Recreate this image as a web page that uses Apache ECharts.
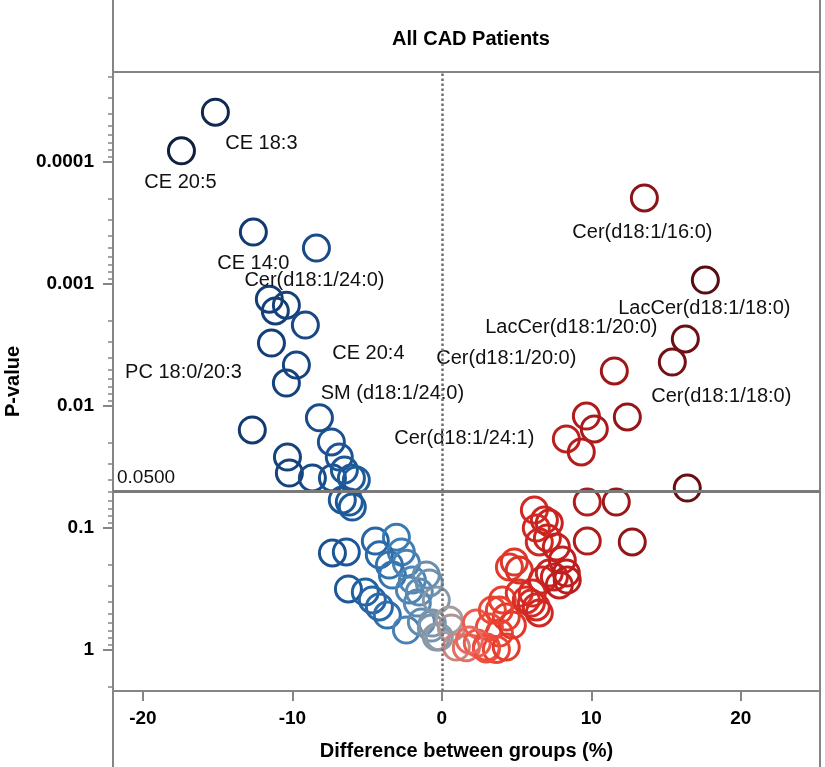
<!DOCTYPE html>
<html>
<head>
<meta charset="utf-8">
<title>All CAD Patients</title>
<script src="https://cdn.jsdelivr.net/npm/echarts@6/dist/echarts.min.js"></script>
<style>
  html, body { margin: 0; padding: 0; background: #fff; }
  #chart { width: 825px; height: 767px; }
</style>
</head>
<body>
<div id="chart"></div>
<script>
// difference between groups (%) per lipid
const diffs = [
  -15.15, -17.42, -12.61, -8.39, -11.54, -10.40, -11.14, -9.13, -11.40, -9.73,
  -10.40, -8.19, -12.68, -7.39, -10.33, -6.86, -10.20, -8.66, -7.32, -6.52,
  -6.05, -5.72, -6.66, -6.19, -5.99,
  -7.32, -6.39, -4.45, -3.04, -4.18, -2.71, -3.51, -2.37, -6.25, -5.12,
  -4.65, -3.31, -1.97, -1.51, -2.17, -0.84, -3.65, -4.18, -2.37, -1.37,
  -0.70, -0.37, -1.64, -0.37, -1.04,
  -0.64, 0.50, -0.17, 0.97, 0.64,
  1.64, 2.31, 2.98, 3.38, 3.85, 4.31, 3.65, 2.37, 2.98, 4.31,
  4.05, 3.18, 1.84, 4.72,
  4.52, 4.85, 5.18, 5.18, 5.65, 5.99, 6.52, 6.05, 6.72, 7.19,
  6.32, 3.85,
  6.19, 6.86, 7.19, 6.32, 7.06, 6.52, 7.66, 8.06, 7.53, 8.33,
  7.86, 8.39, 9.73, 11.67, 9.73, 12.74,
  13.55, 17.63, 16.29, 15.42, 11.54, 12.41, 9.67, 10.20, 8.33, 9.33,
  16.42
]
// P-value per lipid
const pValues = [
  0.000039, 0.000081, 0.000375, 0.000507, 0.00133, 0.00149, 0.00166, 0.00217, 0.00305, 0.00461,
  0.00648, 0.0125, 0.0157, 0.0197, 0.0262, 0.0262, 0.0354, 0.0389, 0.0389, 0.0335,
  0.0389, 0.0404, 0.0589, 0.0612, 0.0673,
  0.160, 0.157, 0.128, 0.119, 0.166, 0.157, 0.201, 0.194, 0.316, 0.335,
  0.389, 0.243, 0.267, 0.335, 0.322, 0.282, 0.517, 0.444, 0.686, 0.589,
  0.660, 0.782, 0.412, 0.389, 0.243,
  0.601, 0.568, 0.782, 0.945, 0.660,
  0.96, 0.601, 0.945, 0.470, 0.726, 0.537, 0.99, 0.877, 0.98, 0.945,
  0.389, 0.648, 0.828, 0.624,
  0.209, 0.190, 0.221, 0.341, 0.389, 0.412, 0.497, 0.341, 0.267, 0.234,
  0.444, 0.470,
  0.0712, 0.0860, 0.0910, 0.100, 0.121, 0.130, 0.143, 0.183, 0.252, 0.234,
  0.293, 0.267, 0.0612, 0.0612, 0.128, 0.130,
  0.000197, 0.000927, 0.00282, 0.00436, 0.00516, 0.0123, 0.0121, 0.0154, 0.0186, 0.0238,
  0.0470
]
// lipid names shown on the chart, keyed by point index
const labelIndex = [0, 1, 2, 3, 8, 9, 11, 105, 101, 99, 98, 100, 97]
const labelNames = [
  'CE 18:3', 'CE 20:5', 'CE 14:0', 'Cer(d18:1/24:0)', 'PC 18:0/20:3', 'CE 20:4',
  'SM (d18:1/24:0)', 'Cer(d18:1/24:1)', 'Cer(d18:1/20:0)', 'LacCer(d18:1/20:0)',
  'LacCer(d18:1/18:0)', 'Cer(d18:1/18:0)', 'Cer(d18:1/16:0)'
]

const xTicks = [-20, -10, 0, 10, 20]
const yTickP = [1, 0.1, 0.01, 0.001, 0.0001]
const yTickText = ['1', '0.1', '0.01', '0.001', '0.0001']
const threshold = 0.05

// label placement relative to its circle
const labelOffsets = {
  'CE 18:3': [46, 31],
  'CE 20:5': [-1, 32],
  'CE 14:0': [0, 31],
  'Cer(d18:1/24:0)': [-2, 32],
  'PC 18:0/20:3': [-88, 29],
  'CE 20:4': [72, -12],
  'SM (d18:1/24:0)': [73, -24],
  'Cer(d18:1/24:1)': [-102, 0],
  'Cer(d18:1/20:0)': [-108, -12],
  'LacCer(d18:1/20:0)': [-114, -11],
  'LacCer(d18:1/18:0)': [-1, 28],
  'Cer(d18:1/18:0)': [49, 34],
  'Cer(d18:1/16:0)': [-2, 35],
}

// blue -> gray -> red by difference
const colorStops = [
  [-18, '#0c1d3a'], [-15, '#0f2a50'], [-12.5, '#123a72'], [-10, '#16447f'],
  [-8, '#1a4d8c'], [-6, '#1d5a9a'], [-4, '#2a6aaa'], [-3, '#3b7ab2'],
  [-2, '#4f86b5'], [-1, '#6a8fae'], [-0.3, '#8a9aa8'], [0.5, '#a39d9f'],
  [1, '#cc857f'], [1.8, '#e86a5f'], [2.5, '#f05545'], [4, '#e8402f'],
  [6, '#d42a22'], [8, '#c01f1f'], [10, '#ad1a1a'], [12, '#9a1618'],
  [14, '#861318'], [16, '#6e0f14'], [18, '#560c10'],
]
function hexToRgb(h) {
  return [1, 3, 5].map(i => parseInt(h.slice(i, i + 2), 16))
}
function colorAt(x) {
  if (x <= colorStops[0][0]) return colorStops[0][1]
  for (let i = 1; i < colorStops.length; i++) {
    const [x1, c1] = colorStops[i]
    const [x0, c0] = colorStops[i - 1]
    if (x <= x1) {
      const t = (x - x0) / (x1 - x0)
      const a = hexToRgb(c0), b = hexToRgb(c1)
      const rgb = a.map((v, k) => Math.round(v + (b[k] - v) * t))
      return `rgb(${rgb.join(',')})`
    }
  }
  return colorStops[colorStops.length - 1][1]
}

const lp = p => -Math.log10(p)
const FONT = "'Liberation Sans', Arial, Helvetica, sans-serif"
const AXIS_GRAY = '#858585'

// log minor tick positions (2..9 in each decade)
const minorTicks = []
for (let k = -1; k <= 5; k++) {
  for (let m = 2; m <= 9; m++) minorTicks.push(k - Math.log10(m))
}

const points = diffs.map((d, i) => {
  const item = {
    value: [d, lp(pValues[i])],
    itemStyle: { borderColor: colorAt(d) },
  }
  const li = labelIndex.indexOf(i)
  if (li >= 0) {
    const name = labelNames[li]
    item.label = { show: true, formatter: name, offset: labelOffsets[name] }
  }
  return item
})

const chart = echarts.init(document.getElementById('chart'))
chart.setOption({
  animation: false,
  title: {
    text: 'All CAD Patients',
    left: 466,
    top: 24,
    textAlign: 'center',
    textStyle: { fontFamily: FONT, fontSize: 20, fontWeight: 'bold', color: '#000' },
  },
  grid: {
    left: 113, right: 5, top: 72, bottom: 76,
    containLabel: false,
    outerBoundsMode: 'none',
    show: true, borderColor: AXIS_GRAY, borderWidth: 2,
  },
  graphic: [
    { type: 'line', shape: { x1: 113, y1: 0, x2: 113, y2: 767 }, style: { stroke: AXIS_GRAY, lineWidth: 2 } },
    { type: 'line', shape: { x1: 820, y1: 0, x2: 820, y2: 767 }, style: { stroke: AXIS_GRAY, lineWidth: 2 } },
  ],
  xAxis: {
    type: 'value',
    min: -22,
    max: 25.3,
    name: 'Difference between groups (%)',
    nameLocation: 'middle',
    nameGap: 50,
    nameTextStyle: { fontFamily: FONT, fontSize: 20, fontWeight: 'bold', color: '#000' },
    axisLine: { show: true, onZero: false, lineStyle: { color: AXIS_GRAY, width: 2 } },
    axisTick: { show: true, customValues: xTicks, length: 10, lineStyle: { color: AXIS_GRAY, width: 2 } },
    axisLabel: {
      customValues: xTicks, margin: 18,
      fontFamily: FONT, fontSize: 19, fontWeight: 'bold', color: '#000',
    },
    splitLine: { show: false },
  },
  yAxis: [
    {
      type: 'value',
      min: -0.336,
      max: 4.738,
      name: 'P-value',
      nameLocation: 'middle',
      nameRotate: 90,
      nameGap: 90,
      nameTextStyle: { fontFamily: FONT, fontSize: 20, fontWeight: 'bold', color: '#000' },
      axisLine: { show: true, onZero: false, lineStyle: { color: AXIS_GRAY, width: 2 } },
      axisTick: { show: true, customValues: yTickP.map(lp), length: 10, lineStyle: { color: AXIS_GRAY, width: 2 } },
      axisLabel: {
        customValues: yTickP.map(lp),
        formatter: v => yTickText[yTickP.findIndex(p => Math.abs(lp(p) - v) < 1e-6)] || '',
        margin: 19,
        fontFamily: FONT, fontSize: 19, fontWeight: 'bold', color: '#000',
      },
      splitLine: { show: false },
    },
    {
      type: 'value',
      min: -0.336,
      max: 4.738,
      position: 'left',
      axisLine: { show: false, onZero: false },
      axisTick: { show: true, customValues: minorTicks, length: 5, lineStyle: { color: AXIS_GRAY, width: 1.5 } },
      axisLabel: { show: false },
      splitLine: { show: false },
    },
  ],
  series: [{
    type: 'scatter',
    symbol: 'circle',
    symbolSize: 26,
    itemStyle: { color: 'rgba(0,0,0,0)', borderWidth: 3, opacity: 1 },
    label: {
      show: false,
      position: 'inside',
      fontFamily: FONT,
      fontSize: 20,
      color: '#111',
    },
    emphasis: { disabled: true },
    data: points,
    markLine: {
      silent: true,
      symbol: 'none',
      animation: false,
      data: [
        {
          yAxis: lp(threshold),
          lineStyle: { color: '#7a7a7a', width: 3, type: 'solid' },
          label: {
            show: true, position: 'insideStartTop', formatter: threshold.toFixed(4),
            fontFamily: FONT, fontSize: 19, color: '#111', distance: 4,
          },
        },
        {
          xAxis: 0,
          lineStyle: { color: '#6f6f6f', width: 2.5, type: 'dotted' },
          label: { show: false },
        },
      ],
    },
  }],
})
</script>
</body>
</html>
